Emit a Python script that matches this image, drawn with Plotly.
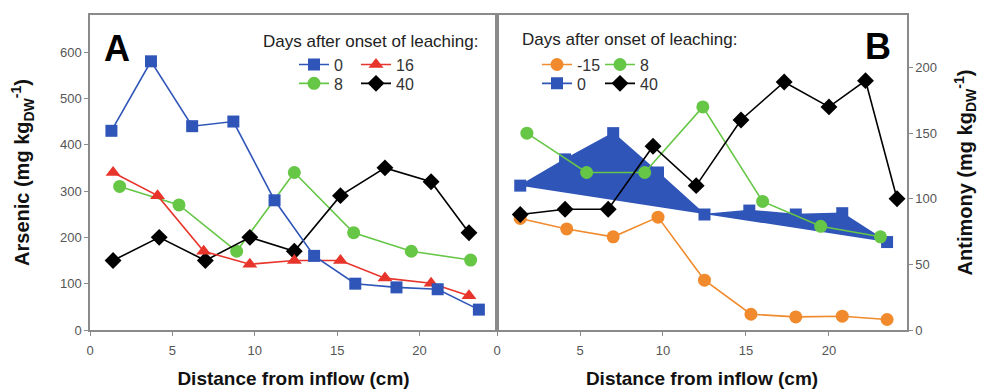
import plotly.graph_objects as go

# ---------------- Panel A: Arsenic ----------------
a_d0_x = [1.3, 3.7, 6.2, 8.7, 11.2, 13.6, 16.1, 18.6, 21.1, 23.6]
a_d0_y = [430, 580, 440, 450, 280, 160, 100, 92, 88, 44]
a_d16_x = [1.4, 4.1, 6.9, 9.7, 12.4, 15.2, 17.9, 20.7, 23.0]
a_d16_y = [340, 290, 170, 142, 150, 150, 112, 101, 74]
a_d8_x = [1.8, 5.4, 8.9, 12.4, 16.0, 19.5, 23.1]
a_d8_y = [310, 270, 170, 340, 210, 170, 151]
a_d40_x = [1.4, 4.2, 7.0, 9.7, 12.4, 15.2, 17.9, 20.7, 23.0]
a_d40_y = [150, 200, 150, 200, 170, 290, 350, 320, 210]

# ---------------- Panel B: Antimony ----------------
b_dm15_x = [1.4, 4.2, 7.0, 9.7, 12.5, 15.3, 18.0, 20.8, 23.5]
b_dm15_y = [85, 77, 71, 86, 38, 12, 10, 10.5, 8]
b_d0_x = [1.4, 4.1, 7.0, 9.7, 12.5, 15.2, 18.0, 20.8, 23.5]
b_d0_y = [110, 130, 150, 120, 88, 91, 88, 89, 67]
b_d8_x = [1.8, 5.4, 8.9, 12.4, 16.0, 19.5, 23.1]
b_d8_y = [150, 120, 120, 170, 98, 79, 71]
b_d40_x = [1.4, 4.1, 6.7, 9.4, 12.0, 14.7, 17.3, 20.0, 22.2, 24.1]
b_d40_y = [88, 92, 92, 140, 110, 160, 189, 170, 190, 100]

x_ticks = [0, 5, 10, 15, 20]
ya_ticks = [0, 100, 200, 300, 400, 500, 600]
yb_ticks = [0, 50, 100, 150, 200]

BLUE = "#2F55B8"
RED = "#E8352B"
GREEN = "#66C646"
BLACK = "#000000"
ORANGE = "#F08A2C"

FONT = "Liberation Sans, Arial, sans-serif"

fig = go.Figure()

def add(x, y, name, color, symbol, xa, ya, legend, rank, size=12, showlegend=True, **kw):
    fig.add_trace(go.Scatter(
        x=x, y=y, name=name, mode="lines+markers",
        line=dict(color=color, width=1.6),
        marker=dict(color=color, symbol=symbol, size=size, line=dict(width=0)),
        xaxis=xa, yaxis=ya, legend=legend, legendrank=rank,
        showlegend=showlegend, **kw))

# Panel A traces
add(a_d8_x, a_d8_y, "8", GREEN, "circle", "x", "y", "legend2", 1, size=13)
add(a_d40_x, a_d40_y, "40", BLACK, "diamond", "x", "y", "legend2", 2, size=13)
add(a_d16_x, a_d16_y, "16", RED, "triangle-up", "x", "y", "legend", 2, size=13)
add(a_d0_x, a_d0_y, "0", BLUE, "square", "x", "y", "legend", 1, size=12)

# Panel B traces
fig.add_trace(go.Scatter(
    x=b_d0_x, y=b_d0_y, mode="lines+markers", fill="toself", fillcolor=BLUE,
    line=dict(color=BLUE, width=1.6),
    marker=dict(color=BLUE, symbol="square", size=12),
    xaxis="x2", yaxis="y2", showlegend=False, hoverinfo="x+y"))
add([None], [None], "0", BLUE, "square", "x2", "y2", "legend4", 1)
add(b_dm15_x, b_dm15_y, "-15", ORANGE, "circle", "x2", "y2", "legend3", 1, size=13)
add(b_d8_x, b_d8_y, "8", GREEN, "circle", "x2", "y2", "legend3", 2, size=13)
add(b_d40_x, b_d40_y, "40", BLACK, "diamond", "x2", "y2", "legend4", 2, size=13)

AXIS_COL = "#8a8a8a"
TICKFONT = dict(family=FONT, size=13, color="#555555")
XTITLEFONT = dict(family=FONT, size=19, color="#111111", weight="bold")
YTITLEFONT = dict(family=FONT, size=20, color="#111111", weight="bold")

split = 407 / 817

xcommon = dict(range=[0, 24.7], tickvals=x_ticks, ticks="outside", ticklen=4,
               tickcolor=AXIS_COL, showline=True, linecolor=AXIS_COL, linewidth=1.5,
               mirror=True, showgrid=False, zeroline=False, tickfont=TICKFONT,
               ticklabelstandoff=4)

def leg(xp, yp, ew):
    return dict(x=xp, y=yp, orientation="h", bgcolor="rgba(0,0,0,0)", xanchor="left",
                yanchor="middle", font=dict(family=FONT, size=16, color="#333333"),
                traceorder="normal", entrywidth=ew, entrywidthmode="pixels",
                itemwidth=30, tracegroupgap=0)

# page pixel -> paper (page has 8px body offset, accounted for in figure size/margins)
def py(p):
    return (330.5 - p) / 317.5

def px(p):
    return (p - 90) / 817

fig.update_layout(
    width=980, height=384,
    margin=dict(l=82, r=81, t=5, b=61.5),
    paper_bgcolor="white", plot_bgcolor="white",
    font=dict(family=FONT),
    xaxis=dict(domain=[0, split], anchor="y",
               title=dict(text="Distance from inflow (cm)", font=XTITLEFONT, standoff=14),
               **xcommon),
    xaxis2=dict(domain=[split, 1], anchor="y2",
                title=dict(text="Distance from inflow (cm)", font=XTITLEFONT, standoff=14),
                **xcommon),
    yaxis=dict(range=[0, 680], tickvals=ya_ticks, ticks="outside", ticklen=4,
               tickcolor=AXIS_COL, showline=True, linecolor=AXIS_COL, linewidth=1.5,
               mirror=True, showgrid=False, zeroline=False, tickfont=TICKFONT,
               anchor="x",
               title=dict(text="Arsenic (mg kg<sub>DW</sub><sup>-1</sup>)",
                          font=YTITLEFONT, standoff=27)),
    yaxis2=dict(range=[0, 240], tickvals=yb_ticks, ticks="outside", ticklen=4,
                tickcolor=AXIS_COL, showline=True, linecolor=AXIS_COL, linewidth=1.5,
                mirror=True, showgrid=False, zeroline=False, tickfont=TICKFONT,
                anchor="x2", side="right",
                title=dict(text="Antimony (mg kg<sub>DW</sub><sup>-1</sup>)",
                           font=YTITLEFONT, standoff=22)),
    legend=leg(px(294), py(63), 17),
    legend2=leg(px(294), py(82), 17),
    legend3=leg(px(537), py(63), 18),
    legend4=leg(px(537), py(82), 18),
    annotations=[
        dict(text="A", x=px(117), y=py(47), xref="paper", yref="paper",
             xanchor="center", yanchor="middle", showarrow=False,
             font=dict(family=FONT, size=36, color="black", weight="bold")),
        dict(text="B", x=px(878), y=py(45), xref="paper", yref="paper",
             xanchor="center", yanchor="middle", showarrow=False,
             font=dict(family=FONT, size=36, color="black", weight="bold")),
        dict(text="Days after onset of leaching:", x=px(480), y=py(40), xref="paper",
             yref="paper", xanchor="right", yanchor="middle", showarrow=False,
             font=dict(family=FONT, size=17, color="#222222")),
        dict(text="Days after onset of leaching:", x=px(520), y=py(38), xref="paper",
             yref="paper", xanchor="left", yanchor="middle", showarrow=False,
             font=dict(family=FONT, size=17, color="#222222")),
    ],
)

fig.write_html("out.html")
